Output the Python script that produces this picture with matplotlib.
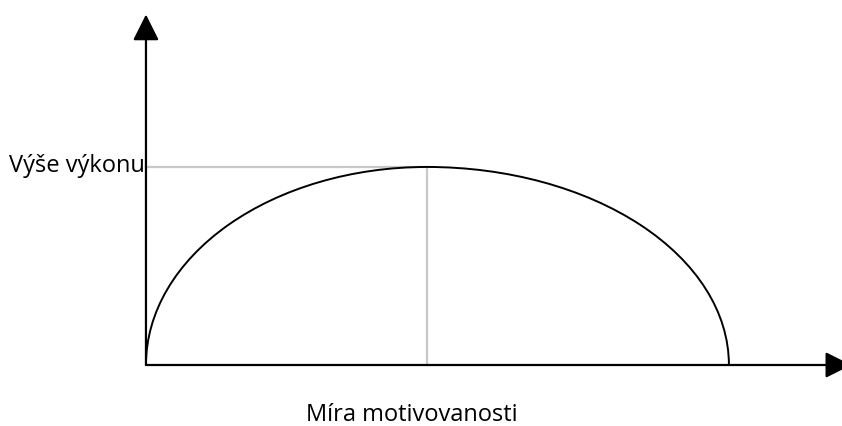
import matplotlib.pyplot as plt
from matplotlib.patches import Arc

# data units: motivation on x, performance on y
peak_x = 4.82        # motivation where performance peaks
peak_y = 1.0         # peak performance
end_x = 10.0         # curve returns to zero here
x_axis_end = 12.1
y_axis_end = 1.77

y_label = "Výše výkonu"
x_label = "Míra motivovanosti"

fig = plt.figure(figsize=(8.42, 4.26), dpi=100)
ax = fig.add_axes([0, 0, 1, 1])
ax.set_xlim(-2.504, 11.94)
ax.set_ylim(-0.308, 1.843)
ax.axis('off')

arrow = dict(arrowstyle='-|>,head_length=0.8,head_width=0.4', color='black',
             lw=1.6, mutation_scale=20, shrinkA=0, shrinkB=0)
ax.annotate('', xy=(0, y_axis_end), xytext=(0, 0), arrowprops=arrow,
            annotation_clip=False)
ax.annotate('', xy=(x_axis_end, 0), xytext=(0, 0), arrowprops=arrow,
            annotation_clip=False)

# grey guide lines to the peak
ax.plot([0, peak_x], [peak_y, peak_y], color='#c8c8c8', lw=1.6, zorder=1)
ax.plot([peak_x, peak_x], [0, peak_y], color='#c8c8c8', lw=1.6, zorder=1)

# performance curve: two quarter ellipses meeting at the peak
ax.add_patch(Arc((peak_x, 0), 2 * peak_x, 2 * peak_y, theta1=90, theta2=180,
                 color='black', lw=1.4, zorder=2))
ax.add_patch(Arc((peak_x, 0), 2 * (end_x - peak_x), 2 * peak_y, theta1=0, theta2=90,
                 color='black', lw=1.4, zorder=2))

ax.text(-0.02, 0.975, y_label, ha='right', va='baseline', fontsize=17,
        family='Open Sans')
ax.text(4.555, -0.25, x_label, ha='center', va='center', fontsize=17,
        family='Open Sans')

fig.savefig('out.png', dpi=100)
